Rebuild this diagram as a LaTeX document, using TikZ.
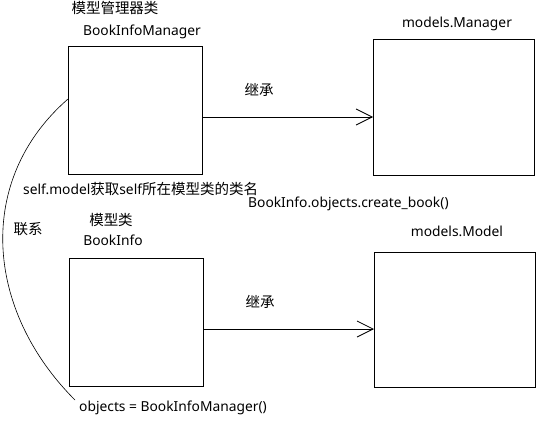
\documentclass[tikz,border=0pt]{standalone}
\usepackage{fontspec}
\setmainfont{Noto Sans}
\newfontfamily\cjk[Scale=1.05]{Noto Sans CJK SC}
\usetikzlibrary{arrows.meta}
\begin{document}
\begin{tikzpicture}[x=1pt,y=-1pt,
  cls/.style={draw=black, line width=0.8pt, minimum width=134pt, minimum height=128pt, inner sep=0pt, anchor=north west},
  lbl/.style={font=\fontsize{13.8}{16}\selectfont, inner sep=0pt, text=black},
  inh/.style={line width=0.8pt, -{Straight Barb[length=16pt,width=16pt,line width=0.8pt]}},
  link/.style={line width=0.6pt}]
\useasboundingbox (0,0) rectangle (551,425);
\fill[white] (0,0) rectangle (551,425);
% boxes
\node[cls] (mgr) at (68,46) {};
\node[cls, minimum width=161pt, minimum height=136pt] (mmgr) at (373,39) {};
\node[cls] (info) at (69,258) {};
\node[cls, minimum width=161pt, minimum height=135pt] (mmodel) at (374,252) {};
% labels
\node[lbl] (t1) at (115,8) {\cjk 模型管理器类};
\node[lbl] (t2) at (142,32) {BookInfoManager};
\node[lbl] (t3) at (457,24) {models.Manager};
\node[lbl] (t4) at (259,90) {\cjk 继承};
\node[lbl, anchor=west] (t5) at (23,189) {self.model{\cjk 获取}self{\cjk 所在模型类的类名}};
\node[lbl, anchor=west] (t6) at (248,204) {BookInfo.objects.create\_book()};
\node[lbl] (t7) at (457,231) {models.Model};
\node[lbl] (t8) at (28,229) {\cjk 联系};
\node[lbl] (t9) at (111,220) {\cjk 模型类};
\node[lbl] (t10) at (113,240) {BookInfo};
\node[lbl] (t11) at (260,302) {\cjk 继承};
\node[lbl, anchor=west] (t12) at (79,408) {objects = BookInfoManager()};
% arrows
\draw[inh] (mgr.east |- 0,117) -- (mmgr.west |- 0,117);
\draw[inh] (info.east |- 0,329) -- (mmodel.west |- 0,329);
% link curve
\coordinate (ls) at (68,99);
\coordinate (le) at (75,400);
\draw[link] (ls) .. controls (-25,180) and (-15,310) .. (le);
\end{tikzpicture}
\end{document}
